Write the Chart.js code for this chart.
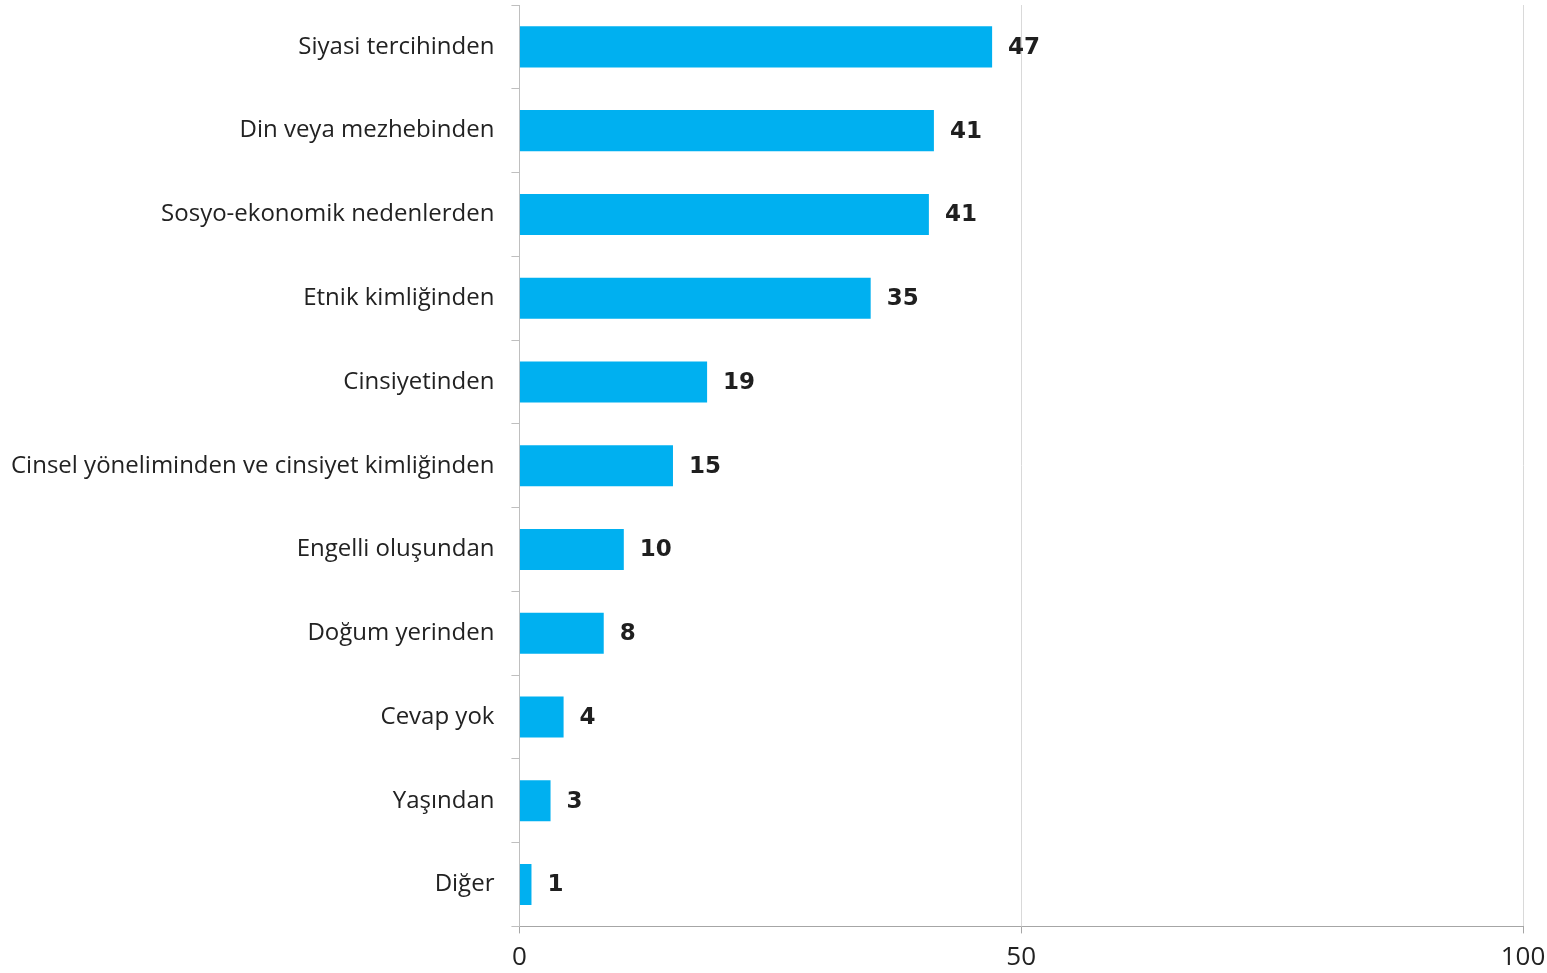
<!DOCTYPE html>
<html>
<head>
<meta charset="utf-8">
<script src="https://cdn.jsdelivr.net/npm/chart.js@4"></script>
<style>
  html, body { margin: 0; padding: 0; background: #fff; }
  #wrap { width: 1547px; height: 973px; }
</style>
</head>
<body>
<div id="wrap"><canvas id="chart"></canvas></div>
<script>
// Kategoriler ve değerler
const categories = [
    "Siyasi tercihinden",
    "Din veya mezhebinden",
    "Sosyo-ekonomik nedenlerden",
    "Etnik kimliğinden",
    "Cinsiyetinden",
    "Cinsel yöneliminden ve cinsiyet kimliğinden",
    "Engelli oluşundan",
    "Doğum yerinden",
    "Cevap yok",
    "Yaşından",
    "Diğer",
];
const values = [47.1, 41.3, 40.8, 35.0, 18.7, 15.3, 10.4, 8.4, 4.4, 3.1, 1.2];
const xTicks = [0, 50, 100];

const Y_TICK_PAD = 17;
const X_TICK_PAD = 10;

// Çubukların sağına değer etiketleri yazan küçük eklenti
const valueLabels = {
    id: "valueLabels",
    afterDatasetsDraw(chart) {
        const ctx = chart.ctx;
        const meta = chart.getDatasetMeta(0);
        ctx.save();
        ctx.font = "bold 23px 'DejaVu Sans', sans-serif";
        ctx.fillStyle = "#1f1f1f";
        ctx.textBaseline = "middle";
        ctx.textAlign = "left";
        meta.data.forEach((bar, i) => {
            ctx.fillText(String(Math.round(values[i])), bar.x + 16, bar.y + 1);
        });
        ctx.restore();
    },
};

const ctx = document.getElementById("chart").getContext("2d");
new Chart(ctx, {
    type: "bar",
    data: {
        labels: categories,
        datasets: [
            {
                data: values,
                backgroundColor: "#00B0F0",
                borderWidth: 0,
                barPercentage: 0.49,
                categoryPercentage: 1.0,
            },
        ],
    },
    options: {
        indexAxis: "y",
        responsive: true,
        maintainAspectRatio: false,
        animation: false,
        layout: { padding: { top: 5, right: 24, bottom: 1, left: 11 } },
        plugins: {
            legend: { display: false },
            tooltip: { enabled: false },
        },
        scales: {
            x: {
                min: 0,
                max: 100,
                afterBuildTicks: (axis) => {
                    axis.ticks = xTicks.map((v) => ({ value: v }));
                },
                afterFit: (axis) => {
                    // chart.js padding'i iki kez sayıyor
                    axis.height -= X_TICK_PAD;
                    axis.paddingRight = 0;
                },
                grid: {
                    color: (c) => (c.tick && c.tick.value === 0 ? "rgba(0,0,0,0)" : "#d9d9d9"),
                    tickColor: "#a6a6a6",
                    tickLength: 7,
                    lineWidth: 1,
                },
                border: { color: "#a6a6a6", width: 1 },
                ticks: {
                    color: "#222222",
                    font: { family: "'Open Sans', sans-serif", size: 26, lineHeight: 1.1 },
                    padding: X_TICK_PAD,
                },
            },
            y: {
                afterFit: (axis) => {
                    axis.width -= Y_TICK_PAD;
                    axis.paddingTop = 0;
                    axis.paddingBottom = 0;
                },
                grid: {
                    offset: true,
                    drawOnChartArea: false,
                    tickColor: "#bfbfbf",
                    tickLength: 8,
                },
                border: { color: "#bfbfbf", width: 1 },
                ticks: {
                    color: "#222222",
                    font: { family: "'Open Sans', sans-serif", size: 24 },
                    padding: Y_TICK_PAD,
                },
            },
        },
    },
    plugins: [valueLabels],
});
</script>
</body>
</html>
